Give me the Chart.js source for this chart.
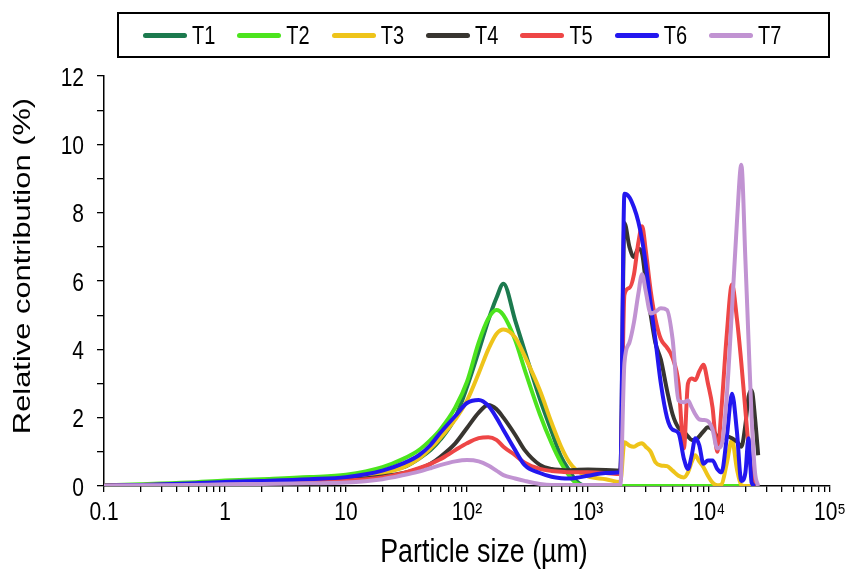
<!DOCTYPE html>
<html>
<head>
<meta charset="utf-8">
<script src="https://cdn.jsdelivr.net/npm/chart.js@4/dist/chart.umd.min.js"></script>
<style>
  html, body { margin: 0; padding: 0; background: #fff; }
  .wrap { position: relative; width: 848px; height: 572px; }
  .legend-box {
    position: absolute; left: 117px; top: 12px; width: 685px; height: 42px;
    border: 2px solid #000; display: flex; align-items: center; justify-content: flex-start;
    padding-left: 24px; box-sizing: content-box;
    font-family: "Liberation Sans", Arial, sans-serif; font-size: 20px; color: #000;
  }
  .legend-item { display: flex; align-items: center; margin-right: 22px; }
  .legend-line { width: 44px; height: 5px; border-radius: 3px; margin-right: 5px; }
  .legend-text { display: inline-block; transform: scaleY(1.26); }
</style>
</head>
<body>
<div class="wrap">
  <canvas id="psd-chart"></canvas>
  <div class="legend-box" id="legend"></div>
</div>
<script>
// particle size classes (µm)
const sizes = [
  0.1, 0.2, 0.5, 1, 2, 5, 10, 20, 30, 40, 50, 60, 80, 100, 125, 150, 175, 200, 250, 300,
  400, 500, 600, 700, 800, 1000, 1400, 1850,
  2000, 2200, 2400, 2600, 2800, 3000, 3300, 3600, 4000, 4500, 5000, 5600, 6200, 6700, 7200, 7700,
  8300, 9000, 9800, 10700, 11700, 12700, 14000, 15500, 17000, 18500, 20000, 21200, 22500, 24000, 25500
];

// relative contribution (%) per treatment
const t1 = [
  0, 0.03, 0.08, 0.13, 0.17, 0.22, 0.28, 0.45, 0.55, 0.8, 1.05, 1.35, 2.0, 2.9, 3.95, 4.85, 5.5, 5.92, 4.85, 3.95,
  2.55, 1.6, 0.85, 0.45, 0.15, 0, 0, 0,
  0, 0, 0, 0, 0, 0, 0, 0, 0, 0, 0, 0, 0, 0, 0, 0,
  0, 0, 0, 0, 0, 0, 0, 0, 0, 0, 0, 0, 0, 0, null
];
const t2 = [
  0.02, 0.05, 0.1, 0.16, 0.2, 0.26, 0.33, 0.55, 0.8, 1.05, 1.35, 1.65, 2.3, 3.05, 4.2, 4.9, 5.15, 5.0, 4.27, 3.4,
  2.1, 1.25, 0.67, 0.3, 0.08, 0, 0, 0,
  0, 0, 0, 0, 0, 0, 0, 0, 0, 0, 0, 0, 0, 0, 0, 0,
  0, 0, 0, 0, 0, 0, 0, 0, 0, 0, 0, 0, 0, 0, null
];
const t3 = [
  0.01, 0.03, 0.06, 0.09, 0.12, 0.17, 0.22, 0.38, 0.55, 0.8, 1.1, 1.4, 1.95, 2.5, 3.3, 4.0, 4.45, 4.58, 4.35, 3.8,
  2.8, 1.85, 1.15, 0.7, 0.47, 0.28, 0.2, 0.12,
  1.28, 1.18, 1.15, 1.22, 1.25, 1.15, 1.0, 0.7, 0.6, 0.58, 0.45, 0.3, 0.25, 0.4, 0.7, 0.9,
  0.72, 0.55, 0.3, 0.1, 0.02, 0.05, 0.65, 1.35, 0.5, 0.03, 0, 0, 0, 0, null
];
const t4 = [
  0.01, 0.02, 0.05, 0.08, 0.1, 0.14, 0.18, 0.28, 0.38, 0.5, 0.65, 0.85, 1.25, 1.7, 2.15, 2.37, 2.25, 2.0, 1.5, 1.05,
  0.62, 0.5, 0.47, 0.46, 0.47, 0.48, 0.47, 0.45,
  7.7, 7.0, 6.7, 6.95, 6.8, 6.0, 5.0, 4.2, 3.7, 2.8, 2.1, 1.7, 1.6, 1.45, 1.35, 1.35,
  1.45, 1.6, 1.72, 1.65, 1.45, 1.35, 1.45, 1.4, 1.3, 1.15, 1.8, 2.6, 2.8, 2.0, 0.9
];
const t5 = [
  0.01, 0.02, 0.04, 0.07, 0.09, 0.12, 0.16, 0.25, 0.38, 0.52, 0.65, 0.78, 1.05, 1.25, 1.4, 1.43, 1.35, 1.15, 0.9, 0.68,
  0.5, 0.44, 0.42, 0.4, 0.4, 0.4, 0.38, 0.35,
  5.6, 5.8, 6.2, 7.1, 7.6, 6.9, 5.7, 4.9, 4.3, 4.05, 3.75, 3.0, 1.1, 3.0, 3.15, 3.1,
  3.35, 3.55, 3.0, 2.3, 1.0, 2.3, 4.4, 5.9, 4.9, 3.6, 2.2, 1.2, 0.4, 0, null
];
const t6 = [
  0.01, 0.03, 0.07, 0.12, 0.15, 0.2, 0.26, 0.45, 0.67, 0.9, 1.2, 1.55, 2.05, 2.43, 2.52, 2.35, 2.0, 1.64, 1.05, 0.61,
  0.38, 0.27, 0.23, 0.22, 0.24, 0.3, 0.38, 0.4,
  8.55, 8.45, 8.15, 7.75, 7.2, 6.5, 5.3, 4.3, 3.0, 2.0, 1.65, 1.55, 0.8, 0.5, 0.9, 1.4,
  1.2, 0.65, 0.75, 0.75, 0.5, 0.4, 1.4, 2.7, 1.6, 0.15, 0.4, 1.4, 0.1, 0, null
];
const t7 = [
  0.01, 0.02, 0.03, 0.05, 0.06, 0.08, 0.1, 0.2, 0.32, 0.42, 0.52, 0.61, 0.72, 0.76, 0.72, 0.6, 0.45, 0.32, 0.22, 0.15,
  0.06, 0.03, 0.03, 0.03, 0.03, 0.03, 0.03, 0.03,
  3.6, 4.2, 4.8, 5.6, 6.2, 5.7, 5.05, 5.1, 5.2, 5.15, 4.3, 2.5, 2.45, 2.5, 2.3, 2.1,
  1.95, 1.93, 1.9, 1.65, 1.1, 1.2, 2.6, 5.2, 7.7, 9.4, 6.6, 4.3, 2.0, 0.4, 0
];

const seriesNames = ['T1', 'T2', 'T3', 'T4', 'T5', 'T6', 'T7'];
const seriesValues = [t1, t2, t3, t4, t5, t6, t7];
const seriesColors = ['#1c7a4e', '#4ce41e', '#eec41a', '#383530', '#ee4646', '#2317ef', '#c193d2'];

const xTickValues = [0.1, 1, 10, 100, 1000, 10000, 100000];
const xTickLabels = ['0.1', '1', '10', '10²', '10³', '10⁴', '10⁵'];
const yTickValues = [0, 2, 4, 6, 8, 10, 12];
const xTitle = 'Particle size (µm)';
const yTitle = 'Relative contribution (%)';

const FONT = '"Liberation Sans", Arial, sans-serif';
const STRETCH = 1.26; // text is set tall and narrow

// legend (boxed, one row)
const legend = document.getElementById('legend');
seriesNames.forEach((name, i) => {
  const item = document.createElement('div');
  item.className = 'legend-item';
  item.innerHTML = `<span class="legend-line" style="background:${seriesColors[i]}"></span><span class="legend-text">${name}</span>`;
  legend.appendChild(item);
});

// minor tick positions for the log axis: 1..9 x 10^k
const logTicks = [];
for (let k = -1; k < 5; k++) {
  for (let m = 1; m < 10; m++) logTicks.push(+(m * Math.pow(10, k)).toPrecision(3));
}
logTicks.push(100000);

// tick labels and axis titles, drawn stretched
const axisTextPlugin = {
  id: 'axisText',
  afterDraw(chart) {
    const { ctx, chartArea, scales } = chart;
    const put = (text, x, y, size, align, rotate) => {
      ctx.save();
      ctx.translate(x, y);
      if (rotate) {
        ctx.rotate(-Math.PI / 2);
        ctx.scale(STRETCH, 1);
      } else {
        ctx.scale(1, STRETCH);
      }
      ctx.font = `${size}px ${FONT}`;
      ctx.fillStyle = '#000';
      ctx.textAlign = align;
      ctx.textBaseline = rotate ? 'middle' : 'alphabetic';
      ctx.fillText(text, 0, 0);
      ctx.restore();
    };

    xTickValues.forEach((v, i) => {
      put(xTickLabels[i], scales.x.getPixelForValue(v), chartArea.bottom + 34, 21, 'center');
    });
    yTickValues.forEach((v) => {
      put(String(v), chartArea.left - 20, scales.y.getPixelForValue(v) + 9.5, 21, 'right');
    });
    put(xTitle, 484, 562, 26.8, 'center');
    put(yTitle, 23, (chartArea.top + chartArea.bottom) / 2 - 15, 24.5, 'center', true);
  }
};

const datasets = seriesNames.map((name, i) => ({
  label: name,
  data: sizes.map((s, j) => ({ x: s, y: seriesValues[i][j] })),
  borderColor: seriesColors[i],
  backgroundColor: seriesColors[i],
  borderWidth: 4,
  pointRadius: 0,
  cubicInterpolationMode: 'monotone',
  order: seriesNames.length - i
}));

new Chart(document.getElementById('psd-chart'), {
  type: 'line',
  data: { datasets },
  plugins: [axisTextPlugin],
  options: {
    responsive: true,
    maintainAspectRatio: false,
    animation: false,
    layout: { padding: { top: 76, right: 18, left: 4, bottom: 0 } },
    plugins: { legend: { display: false }, tooltip: { enabled: false } },
    scales: {
      x: {
        type: 'logarithmic',
        min: 0.1,
        max: 100000,
        afterBuildTicks: (scale) => { scale.ticks = logTicks.map(v => ({ value: v })); },
        afterFit: (scale) => { scale.height = 86; },
        ticks: { display: false, autoSkip: false },
        grid: { drawOnChartArea: false, drawTicks: true, tickLength: 6, color: '#000', lineWidth: 1.3 },
        border: { display: true, color: '#000', width: 1.5 }
      },
      y: {
        min: 0,
        max: 12,
        afterFit: (scale) => { scale.width = 100; },
        ticks: { display: false, stepSize: 1 },
        grid: { drawOnChartArea: false, drawTicks: true, tickLength: 7, color: '#000', lineWidth: 1.3 },
        border: { display: true, color: '#000', width: 1.5 }
      }
    }
  }
});
</script>
</body>
</html>
